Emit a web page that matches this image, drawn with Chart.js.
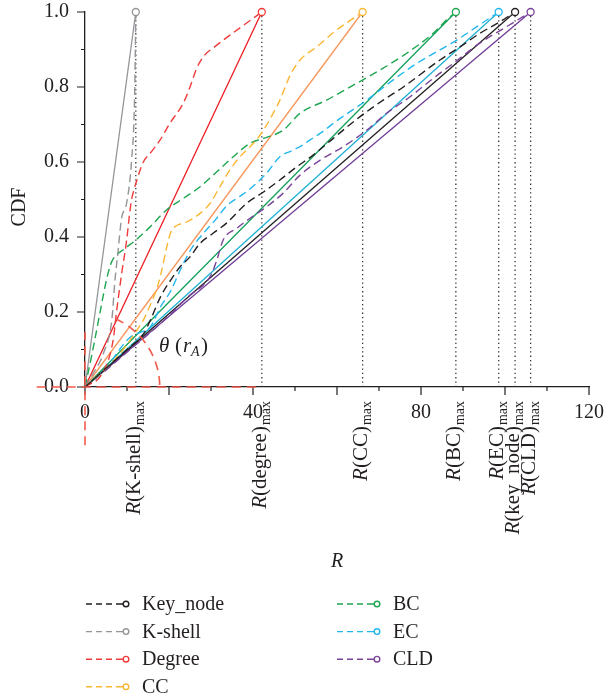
<!DOCTYPE html>
<html>
<head>
<meta charset="utf-8">
<script src="https://cdn.jsdelivr.net/npm/chart.js@4.4.1/dist/chart.umd.min.js"></script>
<style>
  html, body { margin: 0; padding: 0; background: #fff; }
  canvas { display: block; }
</style>
</head>
<body>
<canvas id="cdfChart" width="606" height="698"></canvas>
<script>
// methods, and the R value where each CDF reaches 1
const methods = ['Key_node', 'K-shell', 'Degree', 'CC', 'BC', 'EC', 'CLD'];
const rMaxNames = ['key_node', 'K-shell', 'degree', 'CC', 'BC', 'EC', 'CLD'];
const rMax = [102.4, 12.1, 42.1, 66.1, 88.3, 98.5, 106.1];

// CDF curves
const keyNodeR   = [0, 5, 10, 14, 15.6, 18, 20.4, 22.6, 25, 27.4, 30.5, 33.7, 38.5, 42.5, 46.4, 50.4, 54.4, 59.1, 65.5, 71, 75.8, 84.5, 89.3, 94, 98.8, 102.4];
const keyNodeCDF = [0, 0.05, 0.1, 0.143, 0.179, 0.241, 0.285, 0.32, 0.347, 0.383, 0.41, 0.437, 0.49, 0.52, 0.552, 0.587, 0.619, 0.663, 0.721, 0.765, 0.8, 0.872, 0.907, 0.943, 0.974, 1.0];

const kShellR   = [0, 2, 4.4, 6.4, 7.1, 7.9, 8.7, 9.9, 11.1, 11.8, 12.1];
const kShellCDF = [0, 0.037, 0.09, 0.18, 0.28, 0.365, 0.45, 0.49, 0.605, 0.77, 1.0];

const degreeR   = [0, 4.3, 6.7, 7.5, 8.7, 9.9, 10.7, 11.1, 12.3, 13.9, 15.5, 17.9, 20.2, 23.4, 25, 26.6, 28.5, 30.5, 42.1];
const degreeCDF = [0, 0.04, 0.125, 0.2, 0.3, 0.39, 0.47, 0.5, 0.55, 0.6, 0.623, 0.659, 0.703, 0.757, 0.8, 0.85, 0.885, 0.904, 1.0];

const ccR   = [0, 7.7, 12.4, 14.1, 15.6, 17.1, 18, 19.4, 20.5, 21.8, 24.2, 27.4, 29.8, 32.1, 34.5, 36.9, 40.1, 42.5, 44.8, 46.4, 48.8, 51.2, 55.2, 59.9, 63.9, 66.1];
const ccCDF = [0, 0.081, 0.152, 0.183, 0.22, 0.262, 0.298, 0.37, 0.415, 0.43, 0.44, 0.463, 0.49, 0.534, 0.579, 0.614, 0.65, 0.685, 0.73, 0.765, 0.83, 0.872, 0.907, 0.952, 0.983, 1.0];

const bcR   = [0, 0.4, 2, 3.6, 5.2, 6.4, 9.1, 11.9, 15.5, 19.4, 23.4, 27.4, 31.4, 35.3, 39.3, 42.5, 47.2, 51.2, 57.5, 63.9, 70.2, 76.6, 82.9, 86.1, 88.3];
const bcCDF = [0, 0.02, 0.107, 0.2, 0.29, 0.335, 0.366, 0.39, 0.427, 0.472, 0.503, 0.534, 0.574, 0.614, 0.65, 0.663, 0.685, 0.73, 0.765, 0.805, 0.845, 0.89, 0.943, 0.979, 1.0];

const ecR   = [0, 5, 9.3, 10.9, 13, 15.6, 18, 20.4, 22.6, 25.4, 28.2, 31, 33.9, 36.7, 39.7, 43.3, 46.4, 49.2, 51.2, 53.6, 57.1, 59.1, 67.1, 73.4, 79, 84.5, 88.5, 93.3, 98.5];
const ecCDF = [0, 0.05, 0.116, 0.134, 0.145, 0.161, 0.214, 0.256, 0.31, 0.37, 0.41, 0.445, 0.485, 0.507, 0.532, 0.571, 0.614, 0.63, 0.641, 0.659, 0.685, 0.703, 0.765, 0.819, 0.863, 0.899, 0.925, 0.961, 1.0];

const cldR   = [0, 5, 10, 15, 20, 25, 28, 30.2, 31.4, 32.9, 36.1, 39.3, 43.3, 47.2, 51.2, 56, 61.5, 67.1, 71.8, 77.4, 82.9, 87.7, 94, 100.4, 106.1];
const cldCDF = [0, 0.045, 0.093, 0.14, 0.19, 0.245, 0.27, 0.303, 0.339, 0.392, 0.423, 0.45, 0.481, 0.517, 0.565, 0.605, 0.641, 0.685, 0.73, 0.774, 0.823, 0.863, 0.917, 0.961, 1.0];

const xTickLabels = [0, 40, 80, 120];
const yTickLabels = [0, 0.2, 0.4, 0.6, 0.8, 1.0];

const dashColors = ['#231f20', '#939598', '#ef3b39', '#fbb634', '#1fa650', '#22b7ee', '#7b439a'];
const lineColors = ['#231f20', '#939598', '#ed1c24', '#f7965a', '#12a05b', '#1cb0d3', '#6f3c97'];

const serif = '"Liberation Serif", "DejaVu Serif", serif';
const ink = '#231f20';

const curves = [
    [keyNodeR, keyNodeCDF], [kShellR, kShellCDF], [degreeR, degreeCDF], [ccR, ccCDF],
    [bcR, bcCDF], [ecR, ecCDF], [cldR, cldCDF]
];

const datasets = [];
// end points (open circles) on top
datasets.push({
    label: 'ends',
    data: rMax.map(r => ({ x: r, y: 1 })),
    showLine: false,
    pointRadius: 3.5,
    pointBorderWidth: 1.3,
    pointBorderColor: dashColors,
    pointBackgroundColor: '#fff',
    clip: false
});
// dashed CDF curves
methods.forEach((name, i) => {
    datasets.push({
        label: name,
        data: curves[i][0].map((r, k) => ({ x: r, y: curves[i][1][k] })),
        borderColor: dashColors[i],
        borderWidth: 1.4,
        borderDash: [8, 4.5],
        pointRadius: 0,
        cubicInterpolationMode: 'monotone',
        clip: false
    });
});
// straight reference lines from the origin
methods.forEach((name, i) => {
    datasets.push({
        label: name + ' line',
        data: [{ x: 0, y: 0 }, { x: rMax[i], y: 1 }],
        borderColor: lineColors[i],
        borderWidth: 1.3,
        pointRadius: 0,
        clip: false
    });
});
// dotted drop lines at R_max
rMax.forEach(r => {
    datasets.push({
        label: 'drop',
        data: [{ x: r, y: 0 }, { x: r, y: 1 }],
        borderColor: '#333',
        borderWidth: 1.3,
        borderDash: [1.3, 3],
        pointRadius: 0
    });
});

// red angle annotation, in data units
const thetaLineR = [-11.5, 42.1];
const thetaLineCDF = [-0.155, 0.147];
const thetaArcR = 17.8;
const thetaArcDeg = 66;

const decorations = {
    id: 'decorations',
    afterDraw(chart) {
        const { ctx, chartArea, scales: { x, y } } = chart;
        const ox = x.getPixelForValue(0), oy = y.getPixelForValue(0);
        ctx.save();

        // tick marks
        ctx.strokeStyle = ink;
        ctx.lineWidth = 1.2;
        ctx.beginPath();
        x.ticks.forEach(t => {
            const px = x.getPixelForValue(t.value);
            const len = Math.round(t.value) % 20 === 0 ? 8 : 4;
            ctx.moveTo(px, chartArea.bottom);
            ctx.lineTo(px, chartArea.bottom + len);
        });
        y.ticks.forEach(t => {
            const py = y.getPixelForValue(t.value);
            const len = Math.round(t.value * 10) % 2 === 0 ? 8 : 4;
            ctx.moveTo(chartArea.left - len, py);
            ctx.lineTo(chartArea.left, py);
        });
        ctx.stroke();

        // red angle marks
        ctx.strokeStyle = '#f05a4c';
        ctx.lineWidth = 1.6;
        ctx.setLineDash([9, 6]);
        ctx.beginPath();
        ctx.moveTo(x.getPixelForValue(thetaLineR[0]), oy);
        ctx.lineTo(x.getPixelForValue(thetaLineR[1]), oy);
        ctx.stroke();
        ctx.beginPath();
        ctx.moveTo(ox, y.getPixelForValue(thetaLineCDF[0]));
        ctx.lineTo(ox, y.getPixelForValue(thetaLineCDF[1]));
        ctx.stroke();
        const rad = x.getPixelForValue(thetaArcR) - ox;
        ctx.beginPath();
        ctx.arc(ox, oy, rad, -thetaArcDeg * Math.PI / 180, 0);
        ctx.stroke();
        ctx.setLineDash([]);

        // theta label
        ctx.fillStyle = ink;
        ctx.textBaseline = 'alphabetic';
        ctx.textAlign = 'left';
        ctx.font = 'italic 21px ' + serif;
        ctx.fillText('\u03b8', 159, 352);
        ctx.font = '21px ' + serif;
        ctx.fillText('(', 175, 352);
        ctx.font = 'italic 21px ' + serif;
        ctx.fillText('r', 183, 352);
        ctx.font = 'italic 14px ' + serif;
        ctx.fillText('A', 191, 356);
        ctx.font = '21px ' + serif;
        ctx.fillText(')', 201, 352);

        // R(...)max labels under the axis
        rMax.forEach((r, i) => {
            const px = x.getPixelForValue(r);
            const body = '(' + rMaxNames[i] + ')';
            ctx.save();
            ctx.translate(px + 4, chartArea.bottom + 14);
            ctx.rotate(-Math.PI / 2);
            ctx.font = 'italic 21px ' + serif;
            const wR = ctx.measureText('R').width;
            ctx.font = '21px ' + serif;
            const wB = ctx.measureText(body).width;
            ctx.font = '14px ' + serif;
            const wS = ctx.measureText('max').width;
            let cx = -(wR + wB + wS + 1);
            ctx.font = 'italic 21px ' + serif;
            ctx.fillText('R', cx, 0);
            cx += wR;
            ctx.font = '21px ' + serif;
            ctx.fillText(body, cx, 0);
            cx += wB + 1;
            ctx.font = '14px ' + serif;
            ctx.fillText('max', cx, 4);
            ctx.restore();
        });

        // axis titles
        ctx.save();
        ctx.translate(25, 207);
        ctx.rotate(-Math.PI / 2);
        ctx.textAlign = 'center';
        ctx.font = '20px ' + serif;
        ctx.fillText('CDF', 0, 0);
        ctx.restore();
        ctx.textAlign = 'center';
        ctx.textBaseline = 'middle';
        ctx.font = 'italic 20px ' + serif;
        ctx.fillText('R', 337, 562);

        // legend
        ctx.textAlign = 'left';
        methods.forEach((name, i) => {
            const col = i < 4 ? 0 : 1;
            const row = i < 4 ? i : i - 4;
            const x0 = col ? 337 : 86;
            const yy = 604 + row * 27.6;
            ctx.strokeStyle = dashColors[i];
            ctx.lineWidth = 1.4;
            ctx.beginPath();
            for (let k = 0; k < 3; k++) {
                ctx.moveTo(x0 + k * 10, yy);
                ctx.lineTo(x0 + k * 10 + 6, yy);
            }
            ctx.moveTo(x0 + 30, yy);
            ctx.lineTo(x0 + 37, yy);
            ctx.stroke();
            ctx.beginPath();
            ctx.arc(x0 + 40, yy, 2.8, 0, Math.PI * 2);
            ctx.fillStyle = '#fff';
            ctx.fill();
            ctx.stroke();
            ctx.fillStyle = ink;
            ctx.font = '20px ' + serif;
            ctx.fillText(name, x0 + 56, yy + 1);
        });

        ctx.restore();
    }
};

new Chart(document.getElementById('cdfChart').getContext('2d'), {
    type: 'line',
    data: { datasets: datasets },
    options: {
        responsive: false,
        animation: false,
        devicePixelRatio: 1,
        layout: { padding: { top: 12, right: 17, left: 0, bottom: 0 } },
        plugins: { legend: { display: false }, tooltip: { enabled: false } },
        scales: {
            x: {
                type: 'linear',
                min: 0,
                max: 120,
                afterFit: scale => { scale.height = 311; },
                // invisible tick marks only push the labels away from the axis
                grid: { display: true, drawOnChartArea: false, drawTicks: true, tickLength: 14, tickColor: 'rgba(0,0,0,0)' },
                border: { display: true, color: ink, width: 1.3 },
                ticks: {
                    stepSize: 10,
                    autoSkip: false,
                    maxRotation: 0,
                    padding: 0,
                    color: ink,
                    font: { family: serif, size: 20 },
                    callback: v => xTickLabels.includes(Math.round(v)) ? String(Math.round(v)) : ''
                }
            },
            y: {
                type: 'linear',
                min: 0,
                max: 1,
                afterFit: scale => { scale.width = 85; },
                grid: { display: true, drawOnChartArea: false, drawTicks: true, tickLength: 16, tickColor: 'rgba(0,0,0,0)' },
                border: { display: true, color: ink, width: 1.3 },
                ticks: {
                    stepSize: 0.1,
                    autoSkip: false,
                    padding: 0,
                    color: ink,
                    font: { family: serif, size: 20 },
                    callback: v => yTickLabels.some(t => Math.abs(t - v) < 1e-6) ? v.toFixed(1) : ''
                }
            }
        }
    },
    plugins: [decorations]
});
</script>
</body>
</html>
